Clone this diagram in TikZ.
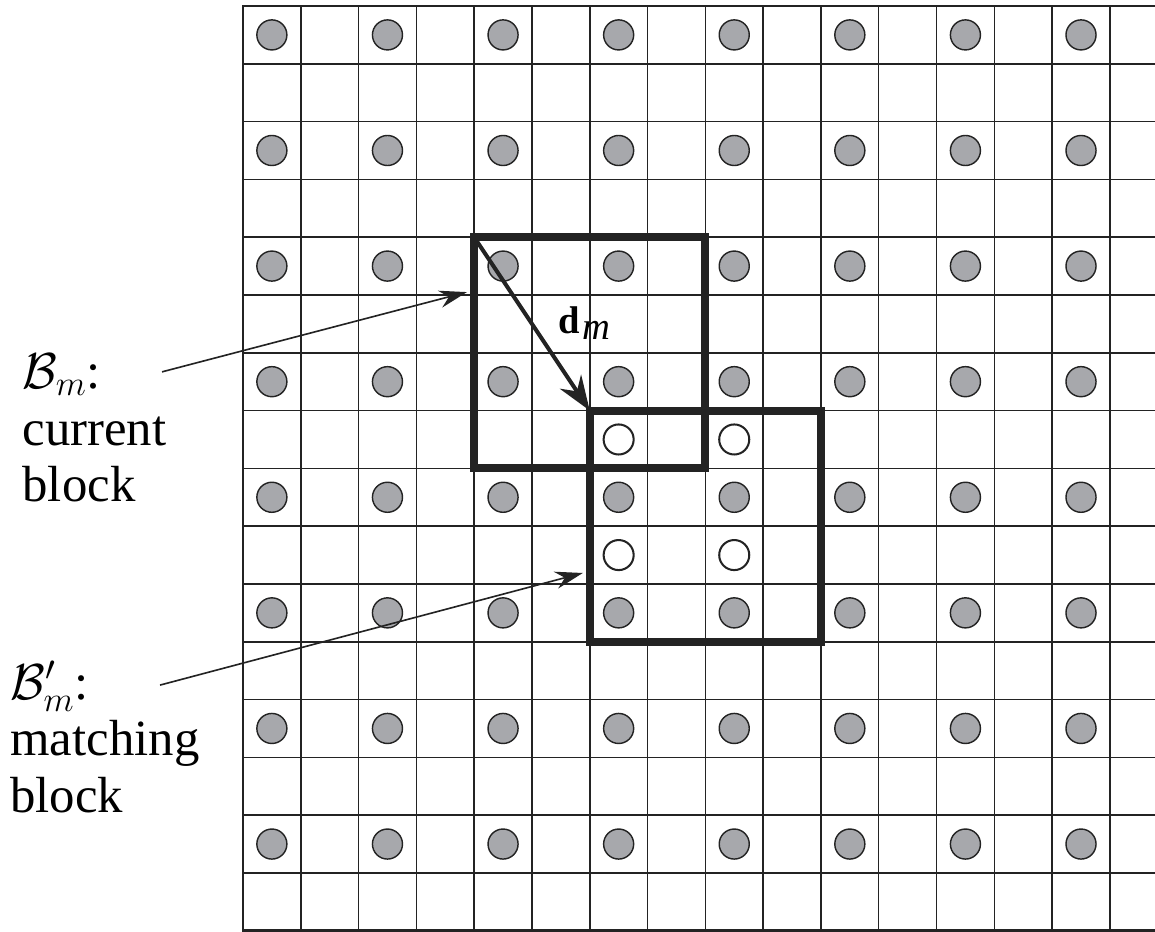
\documentclass[tikz,border=0pt]{standalone}
\usepackage{fontspec}
\setmainfont{Liberation Serif}
\usetikzlibrary{arrows.meta}
\definecolor{dotgray}{RGB}{167,168,172}
\definecolor{inkdark}{RGB}{35,35,35}
\tikzset{
  gridline/.style={inkdark, line width=0.75pt},
  pel/.style={circle, draw=inkdark, line width=0.7pt, fill=dotgray, minimum size=0.52cm, inner sep=0pt},
  halfpel/.style={pel, fill=white, line width=1pt},
  blockline/.style={inkdark, line width=4pt, line join=miter},
  labelarrow/.style={inkdark, line width=0.8pt, -{Stealth[length=4.8mm, width=3mm, inset=1.6mm]}},
  lbl/.style={font=\fontsize{25}{28}\selectfont, align=left, inner sep=0pt, anchor=base west},
}

\begin{document}
\begin{tikzpicture}
  \def\nc{16} \def\nr{16}
  \useasboundingbox (-4.204,-0.02) rectangle (15.78,16.104);
  \begin{scope}
    \clip (-4.204,-0.02) rectangle (15.78,16.104);
    \foreach \x in {1,...,\nc} { \draw[gridline] (\x,0) -- (\x,\nr); }
    \foreach \y in {1,...,15} { \draw[gridline] (0,\y) -- (\nc,\y); }
    \draw[inkdark, line width=1.3pt] (\nc,\nr) -- (0,\nr) -- (0,0) -- (\nc,0);
  \end{scope}
  % integer-pel samples
  \foreach \i in {0,...,7} \foreach \j in {0,...,7}
    \node[pel] (p\i-\j) at (2*\i+0.5, 15.5-2*\j) {};
  % half-pel samples in the matching block
  \node[halfpel] (h1) at (6.5,8.5) {};
  \node[halfpel] (h2) at (8.5,8.5) {};
  \node[halfpel] (h3) at (6.5,6.5) {};
  \node[halfpel] (h4) at (8.5,6.5) {};
  % blocks
  \coordinate (cur) at (4,12);
  \coordinate (match) at (6,9);
  \draw[blockline] (cur) rectangle ++(4,-4);
  \draw[blockline] (match) rectangle ++(4,-4);
  \draw[inkdark, line width=2pt, -{Stealth[length=6mm, width=4.4mm, inset=2mm]}] (cur) -- (match);
  \node[font=\fontsize{19}{22}\selectfont, anchor=base] (dvec) at (5.92,10.34) {\textbf{d}\kern1pt$_{\textit{m}}$};
  % labels (base = last line)
  \node[lbl] (curlbl) at (-3.82,7.42) {$\mathcal{B}_m$:\\current\\block};
  \node[lbl] (matchlbl) at (-4.03,2.04) {$\mathcal{B}'_m$:\\matching\\block};
  \coordinate (curfrom) at (-1.40,9.67);
  \coordinate (curto) at (3.875,11.05);
  \coordinate (matchfrom) at (-1.436,4.25);
  \coordinate (matchto) at (5.88,6.19);
  \draw[labelarrow] (curfrom) -- (curto);
  \draw[labelarrow] (matchfrom) -- (matchto);
\end{tikzpicture}
\end{document}
